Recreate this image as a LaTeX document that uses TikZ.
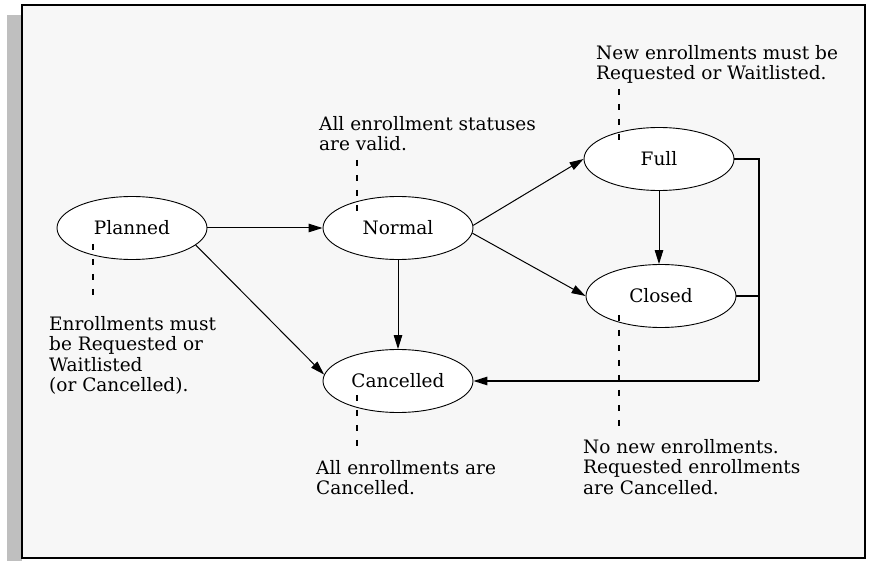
\documentclass[tikz,border=0pt]{standalone}
\usepackage{fontspec}
\setmainfont{DejaVu Serif}
\usetikzlibrary{shapes.geometric,arrows.meta}
\definecolor{bgc}{HTML}{F7F7F7}
\definecolor{shadowc}{HTML}{BFBFBF}
\newcommand{\notefont}{\fontsize{18.5}{20.5}\selectfont}
\begin{document}
\begin{tikzpicture}[x=1pt,y=-1pt,
 state/.style={ellipse, draw, fill=white, line width=0.9pt, minimum width=150pt, minimum height=63pt, inner sep=0pt, font=\notefont},
 arr/.style={line width=1pt, -{Triangle[length=14pt,width=8.5pt]}},
 bracket/.style={line width=2.4pt},
 notelink/.style={line width=2.4pt, dash pattern=on 6pt off 9pt},
 note/.style={align=left, anchor=north west, inner sep=0pt, font=\notefont}]
\useasboundingbox (0,0) rectangle (871,561);
% shadow and frame
\fill[shadowc] (7,15) rectangle (22.3,561);
\draw[fill=bgc, line width=2pt] (22.3,5.5) rectangle (865,558);
% states
\node[state] (planned) at (132,228) {Planned};
\node[state] (normal) at (398,228) {Normal};
\node[state] (full) at (659,159) {Full};
\node[state] (closed) at (661,296) {Closed};
\node[state] (cancelled) at (398,381) {Cancelled};
% notes
\node[note] (nfull) at (596,45) {New enrollments must be\\Requested or Waitlisted.};
\node[note] (nnormal) at (319,116) {All enrollment statuses\\are valid.};
\node[note] (nplanned) at (49,316) {Enrollments must\\be Requested or\\Waitlisted\\(or Cancelled).};
\node[note] (ncancelled) at (316,460) {All enrollments are\\Cancelled.};
\node[note] (nclosed) at (583,439) {No new enrollments.\\Requested enrollments\\are Cancelled.};
% note links
\coordinate (fa) at (619,89);  \coordinate (fb) at (619,142);
\coordinate (na) at (357,160); \coordinate (nb) at (357,212);
\coordinate (pa) at (93,244);  \coordinate (pb) at (93,296);
\coordinate (ca) at (357,395); \coordinate (cb) at (357,447);
\coordinate (la) at (619,315); \coordinate (lb) at (619,430);
\draw[notelink] (fa) -- (fb);
\draw[notelink] (na) -- (nb);
\draw[notelink] (pa) -- (pb);
\draw[notelink] (ca) -- (cb);
\draw[notelink] (la) -- (lb);
% transitions
\draw[arr] (planned.east) -- (normal.west);
\draw[arr] (planned.-15) -- (cancelled.175);
\draw[arr] (normal.south) -- (cancelled.north);
\draw[arr] (normal.2) -- (full.west);
\draw[arr] (normal.-4) -- (closed.west);
\draw[arr] (full.south) -- (full.south |- closed.north);
\coordinate (bt) at (759,159);
\coordinate (bc) at (759,296);
\coordinate (bb) at (759,381);
\draw[bracket] (full.east) -- (bt) -- (bb);
\draw[bracket] (closed.east) -- (bc);
\draw[arr, line width=1.3pt] (bb) -- (cancelled.east);
\end{tikzpicture}
\end{document}
